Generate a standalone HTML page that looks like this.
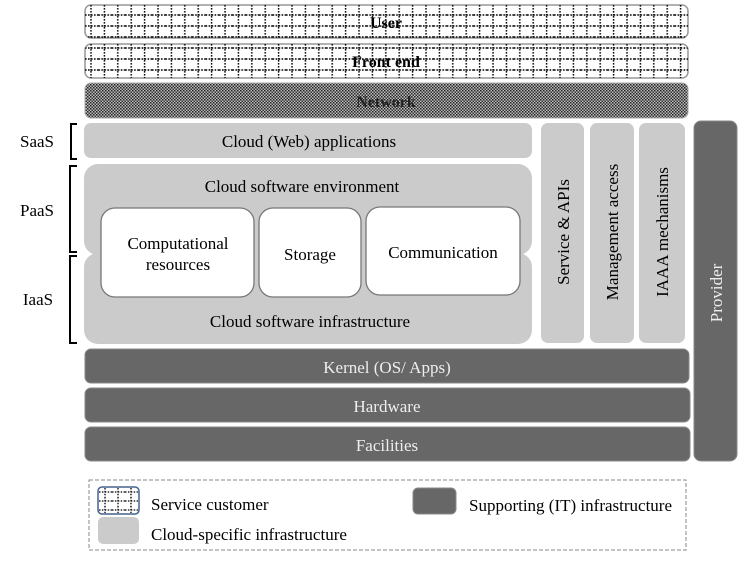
<!DOCTYPE html>
<html><head><meta charset="utf-8"><style>
html,body{margin:0;padding:0;background:#fff;}
svg{display:block;font-family:"Liberation Serif",serif;}
</style></head><body>
<svg width="747" height="561" viewBox="0 0 747 561" xmlns="http://www.w3.org/2000/svg">
<defs>
<pattern id="grid" x="85" y="5" width="13.4" height="11" patternUnits="userSpaceOnUse">
<line x1="6" y1="0" x2="6" y2="11" stroke="#000" stroke-width="1.4" stroke-dasharray="1.6,1.4"/>
<line x1="0" y1="10" x2="13.4" y2="10" stroke="#000" stroke-width="1.4" stroke-dasharray="1.6,1.4"/>
</pattern>
<pattern id="grid2" x="99" y="488" width="13" height="9" patternUnits="userSpaceOnUse">
<line x1="6" y1="0" x2="6" y2="9" stroke="#000" stroke-width="1.3" stroke-dasharray="1.5,1.4"/>
<line x1="0" y1="4" x2="13" y2="4" stroke="#000" stroke-width="1.3" stroke-dasharray="1.5,1.4"/>
</pattern>
<pattern id="dots" width="3" height="3" patternUnits="userSpaceOnUse">
<rect width="3" height="3" fill="#bbb"/>
<rect width="1.5" height="1.5" fill="#222"/>
<rect x="1.5" y="1.5" width="1.5" height="1.5" fill="#333"/>
</pattern>
</defs>

<rect x="85" y="5" width="603" height="33" rx="6" fill="#fff" stroke="#999" stroke-width="1.5"/>
<rect x="85" y="5" width="603" height="33" rx="6" fill="url(#grid)"/>
<text x="386" y="28" font-size="16" font-weight="bold" text-anchor="middle">User</text>

<rect x="85" y="44" width="603" height="34" rx="6" fill="#fff" stroke="#999" stroke-width="1.5"/>
<rect x="85" y="44" width="603" height="34" rx="6" fill="url(#grid)"/>
<text x="386" y="67" font-size="16" font-weight="bold" text-anchor="middle">Front end</text>

<rect x="85" y="83" width="603" height="35" rx="6" fill="url(#dots)" stroke="#aaa" stroke-width="1"/>
<text x="386" y="107" font-size="16" font-weight="bold" text-anchor="middle" fill="#222">Network</text>

<g fill="#cbcbcb">
<rect x="84" y="123" width="448" height="35" rx="7"/>
<rect x="84" y="164" width="448" height="91" rx="14"/>
<rect x="84" y="253" width="448" height="91" rx="14"/>
<rect x="541" y="123" width="43" height="220" rx="7"/>
<rect x="590" y="123" width="44" height="220" rx="7"/>
<rect x="639" y="123" width="46" height="220" rx="7"/>
</g>
<text x="309" y="147" font-size="17" text-anchor="middle">Cloud (Web) applications</text>
<text x="302" y="192" font-size="17" text-anchor="middle">Cloud software environment</text>
<text x="310" y="327" font-size="17" text-anchor="middle">Cloud software infrastructure</text>

<g fill="#fff" stroke="#777" stroke-width="1.3">
<rect x="101" y="208" width="153" height="89" rx="14"/>
<rect x="259" y="208" width="102" height="89" rx="14"/>
<rect x="366" y="207" width="154" height="88" rx="14"/>
</g>
<text x="178" y="249" font-size="17" text-anchor="middle">Computational</text>
<text x="178" y="270" font-size="17" text-anchor="middle">resources</text>
<text x="310" y="260" font-size="17" text-anchor="middle">Storage</text>
<text x="443" y="258" font-size="17" text-anchor="middle">Communication</text>

<text transform="translate(569,232) rotate(-90)" font-size="17" text-anchor="middle">Service &amp; APIs</text>
<text transform="translate(618,232) rotate(-90)" font-size="17" text-anchor="middle">Management access</text>
<text transform="translate(668,232) rotate(-90)" font-size="17" text-anchor="middle">IAAA mechanisms</text>

<g fill="#676767" stroke="#888" stroke-width="1">
<rect x="694" y="121" width="43" height="340" rx="7"/>
<rect x="85" y="349" width="604" height="34" rx="6"/>
<rect x="85" y="388" width="605" height="34" rx="6"/>
<rect x="85" y="427" width="605" height="34" rx="6"/>
</g>
<text transform="translate(722,293) rotate(-90)" font-size="17" text-anchor="middle" fill="#eee">Provider</text>
<text x="387" y="373" font-size="17" text-anchor="middle" fill="#eee">Kernel (OS/ Apps)</text>
<text x="387" y="412" font-size="17" text-anchor="middle" fill="#eee">Hardware</text>
<text x="387" y="451" font-size="17" text-anchor="middle" fill="#eee">Facilities</text>

<g fill="none" stroke="#000" stroke-width="2">
<path d="M77,124 H71 V159 H77"/>
<path d="M77,166 H70 V252 H77"/>
<path d="M77,256 H70 V343 H77"/>
</g>
<text x="37" y="147" font-size="17" text-anchor="middle">SaaS</text>
<text x="37" y="216" font-size="17" text-anchor="middle">PaaS</text>
<text x="38" y="305" font-size="17" text-anchor="middle">IaaS</text>

<rect x="89" y="480" width="597" height="70" fill="none" stroke="#888" stroke-width="1" stroke-dasharray="4,2"/>
<rect x="98" y="487" width="41" height="27" rx="4" fill="#fff" stroke="#44648c" stroke-width="1.5"/>
<rect x="99" y="488" width="39" height="25" fill="url(#grid2)"/>
<rect x="98" y="517" width="41" height="27" rx="5" fill="#cbcbcb"/>
<rect x="413" y="488" width="43" height="26" rx="5" fill="#676767" stroke="#888"/>
<text x="151" y="510" font-size="17">Service customer</text>
<text x="151" y="540" font-size="17">Cloud-specific infrastructure</text>
<text x="469" y="511" font-size="17">Supporting (IT) infrastructure</text>
</svg>
</body></html>
